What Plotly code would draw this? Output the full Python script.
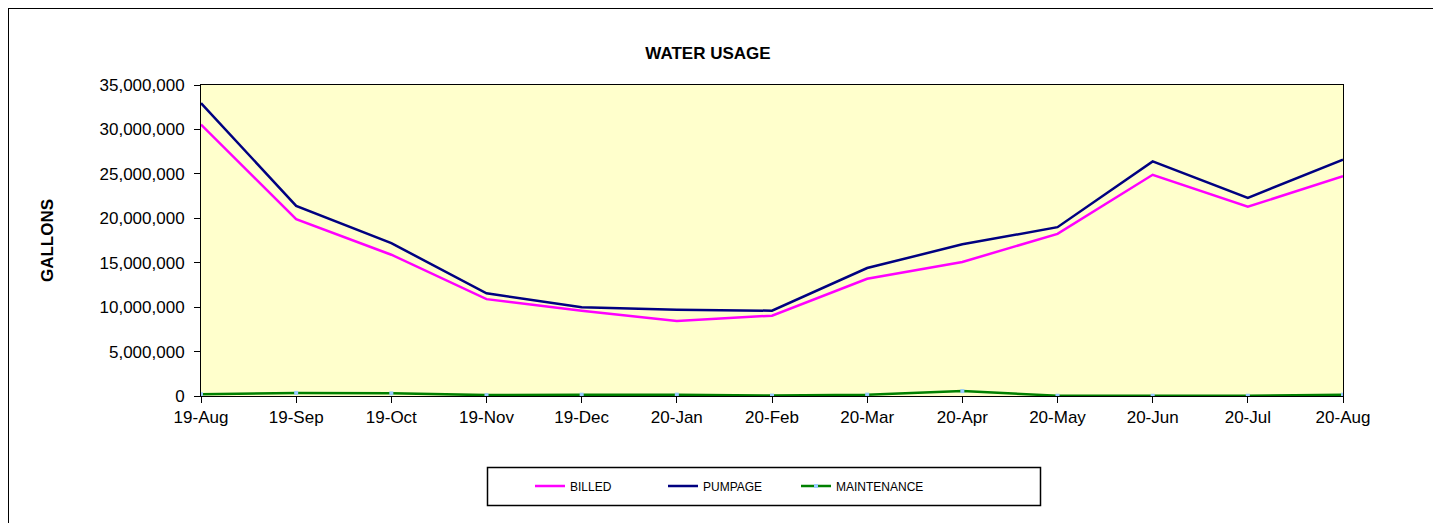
import plotly.graph_objects as go

months = ["19-Aug", "19-Sep", "19-Oct", "19-Nov", "19-Dec", "20-Jan", "20-Feb",
          "20-Mar", "20-Apr", "20-May", "20-Jun", "20-Jul", "20-Aug"]
billed = [30550000, 19900000, 15900000, 10900000, 9600000, 8450000, 9040000,
          13200000, 15080000, 18250000, 24900000, 21300000, 24750000]
pumpage = [32950000, 21400000, 17200000, 11560000, 10000000, 9700000, 9600000,
           14400000, 17070000, 19000000, 26400000, 22300000, 26600000]
maintenance = [200000, 350000, 300000, 100000, 150000, 150000, 50000,
               150000, 550000, 30000, 30000, 30000, 150000]
yticks = [0, 5000000, 10000000, 15000000, 20000000, 25000000, 30000000, 35000000]

FONT = "Liberation Sans, Arial, sans-serif"

fig = go.Figure()
fig.add_trace(go.Scatter(x=months, y=billed, name="BILLED", mode="lines",
                         line=dict(color="#FF00FF", width=2.5)))
fig.add_trace(go.Scatter(x=months, y=pumpage, name="PUMPAGE", mode="lines",
                         line=dict(color="#000080", width=2.5)))
fig.add_trace(go.Scatter(x=months, y=maintenance, name="MAINTENANCE", mode="lines+markers",
                         line=dict(color="#008000", width=2.5),
                         marker=dict(symbol="square", size=4, color="#99CCFF")))

OFF = 8  # page body margin
W, H = 1425, 515
L, R, T, B = 201 - OFF, 1343 - OFF, 85 - OFF, 396 - OFF
pw, ph = R - L, B - T

def px_x(x):
    return (x - OFF - L) / pw

def px_y(y):
    return (B - (y - OFF)) / ph

fig.update_layout(
    width=W, height=H,
    margin=dict(l=L, r=W - R, t=T, b=H - B, pad=0),
    paper_bgcolor="white",
    plot_bgcolor="#FFFFCC",
    font=dict(family=FONT, size=17, color="black"),
    title=dict(text="<b>WATER USAGE</b>", x=px_x(708), xref="paper", xanchor="center",
               y=1 - (53 - OFF) / H, yanchor="middle", font=dict(size=17, family=FONT)),
    showlegend=True,
    legend=dict(orientation="h", x=px_x(530), xref="paper", xanchor="left",
                y=px_y(486), yref="paper", yanchor="middle",
                borderwidth=0, bgcolor="rgba(0,0,0,0)",
                font=dict(size=12, family=FONT),
                entrywidth=88, entrywidthmode="pixels", itemwidth=30,
                traceorder="normal"),
    xaxis=dict(type="category", range=[0, len(months) - 1], showgrid=False,
               showline=True, linecolor="black", linewidth=1, mirror=True,
               ticks="outside", ticklen=6, tickcolor="black",
               tickfont=dict(size=17), zeroline=False),
    yaxis=dict(range=[0, 35000000], tickvals=yticks, tickformat=",d",
               showgrid=False, showline=True, linecolor="black", linewidth=1, mirror=True,
               ticks="outside", ticklen=6, tickcolor="black", zeroline=False,
               tickfont=dict(size=17), ticklabelstandoff=6,
               title=dict(text="<b>GALLONS</b>", font=dict(size=17), standoff=41)),
)

# outer chart frame (extends past the visible page on right and bottom)
fig.add_shape(type="rect", xref="paper", yref="paper",
              x0=px_x(8), x1=px_x(1600), y0=px_y(700), y1=px_y(8),
              line=dict(color="black", width=2), fillcolor="rgba(0,0,0,0)", layer="below")

# legend box
fig.add_shape(type="rect", xref="paper", yref="paper",
              x0=px_x(487.5), x1=px_x(1040.5), y0=px_y(505.5), y1=px_y(467.5),
              line=dict(color="black", width=1.5), fillcolor="white", layer="below")

fig.write_html("out.html")
